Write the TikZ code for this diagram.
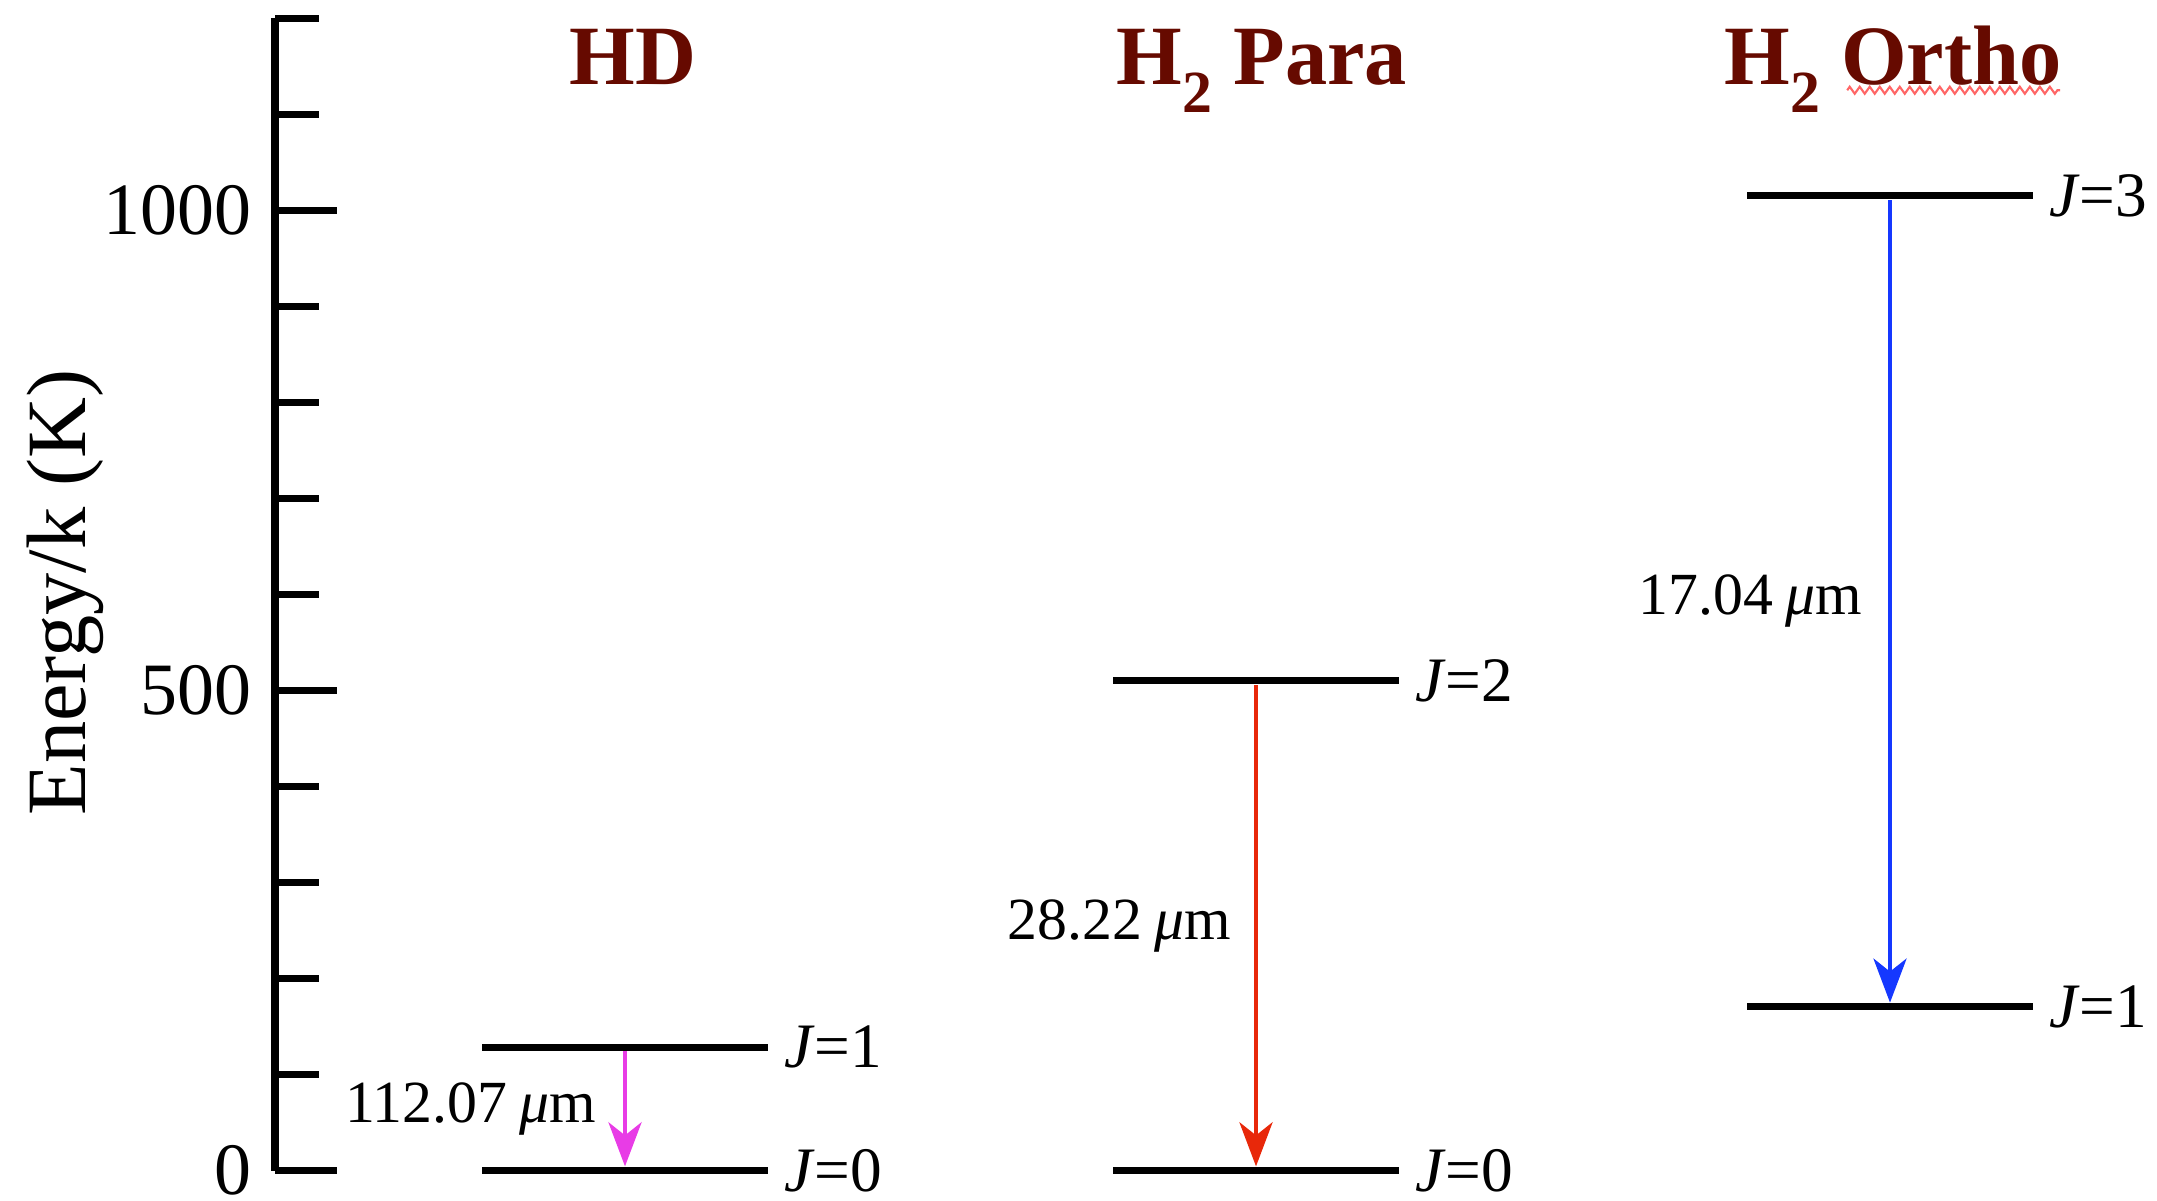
\documentclass[tikz,border=0pt]{standalone}
\usepackage{fontspec}
\setmainfont{Liberation Serif}
\usepackage{xcolor}
\definecolor{titlered}{HTML}{660A00}
\definecolor{hdpink}{HTML}{E83CE6}
\definecolor{parared}{HTML}{E8280A}
\definecolor{orthoblue}{HTML}{1538FF}
\usepackage{tikz}
\usetikzlibrary{arrows.meta,positioning,calc,decorations.pathmorphing}
\newcommand{\Htwo}{H\raisebox{-8pt}{\fontsize{17}{17}\selectfont 2}}
\newcommand{\Jlab}[1]{\textit{J}=#1}
\newcommand{\micron}[1]{#1\hspace{0.2em}\textit{μ}m}

\begin{document}
\begin{tikzpicture}[
  x=0.01cm, y=0.0096cm,
  level/.style={fill=black,inner sep=0pt,minimum width=2.85cm,minimum height=0.07cm},
  jlab/.style={inner sep=0pt,font=\fontsize{18}{18}\selectfont},
  wlab/.style={inner sep=0pt,text=black,font=\fontsize{17}{17}\selectfont},
  ttl/.style={inner sep=0pt,anchor=base,text=titlered,font=\fontsize{24}{24}\selectfont\bfseries},
  arr/.style={-{Stealth[length=0.44cm,width=0.33cm,inset=0.13cm]},line width=1.3pt}]
\useasboundingbox (0,-31) rectangle (2157,1219);
% energy axis
\draw[line width=2pt] (275,0) -- (275,1200);
\foreach \e in {0,100,...,1200}
  \draw[line width=1.9pt] (275,\e) -- ++(44,0);
\foreach \e in {0,500,1000}{
  \draw[line width=1.9pt] (275,\e) -- ++(62,0);
  \node[anchor=east,inner sep=0pt,font=\fontsize{21}{21}\selectfont] (tick\e) at (252,\e) {\e};
}
\node[rotate=90,anchor=base,inner sep=0pt,font=\fontsize{24}{24}\selectfont] (ylab) at (85,602) {Energy/k (K)};
% titles
\node[ttl] (ttlHD) at (633,1131) {HD};
\node[ttl] (ttlPara) at (1262,1131) {\Htwo\ Para};
\node[ttl] (ttlOrtho) at (1893,1131) {\Htwo\ Ortho};
\draw[red!60,line width=0.6pt,decorate,decoration={zigzag,amplitude=0.035cm,segment length=0.1cm}]
  ($(ttlOrtho.base east)+(-215,-6)$) -- ($(ttlOrtho.base east)+(-2,-6)$);
% levels
\node[level] (hdJ0) at (625,0) {};
\node[level] (hdJ1) at (625,128.5) {};
\node[level] (paJ0) at (1256,0) {};
\node[level] (paJ2) at (1256,510) {};
\node[level] (orJ1) at (1890,170.5) {};
\node[level] (orJ3) at (1890,1015) {};
\node[jlab,right=0.15cm of hdJ0] (hdJ0lab) {\Jlab{0}};
\node[jlab,right=0.15cm of hdJ1] (hdJ1lab) {\Jlab{1}};
\node[jlab,right=0.15cm of paJ0] (paJ0lab) {\Jlab{0}};
\node[jlab,right=0.15cm of paJ2] (paJ2lab) {\Jlab{2}};
\node[jlab,right=0.15cm of orJ1] (orJ1lab) {\Jlab{1}};
\node[jlab,right=0.15cm of orJ3] (orJ3lab) {\Jlab{3}};
% transitions
\draw[arr,hdpink] (hdJ1) -- node[wlab,midway,left=0.27cm] (hdlam) {\micron{112.07}} (hdJ0);
\draw[arr,parared] (paJ2) -- node[wlab,midway,left=0.23cm] (palam) {\micron{28.22}} (paJ0);
\draw[arr,orthoblue] (orJ3) -- node[wlab,midway,left=0.26cm] (orlam) {\micron{17.04}} (orJ1);
\end{tikzpicture}
\end{document}
